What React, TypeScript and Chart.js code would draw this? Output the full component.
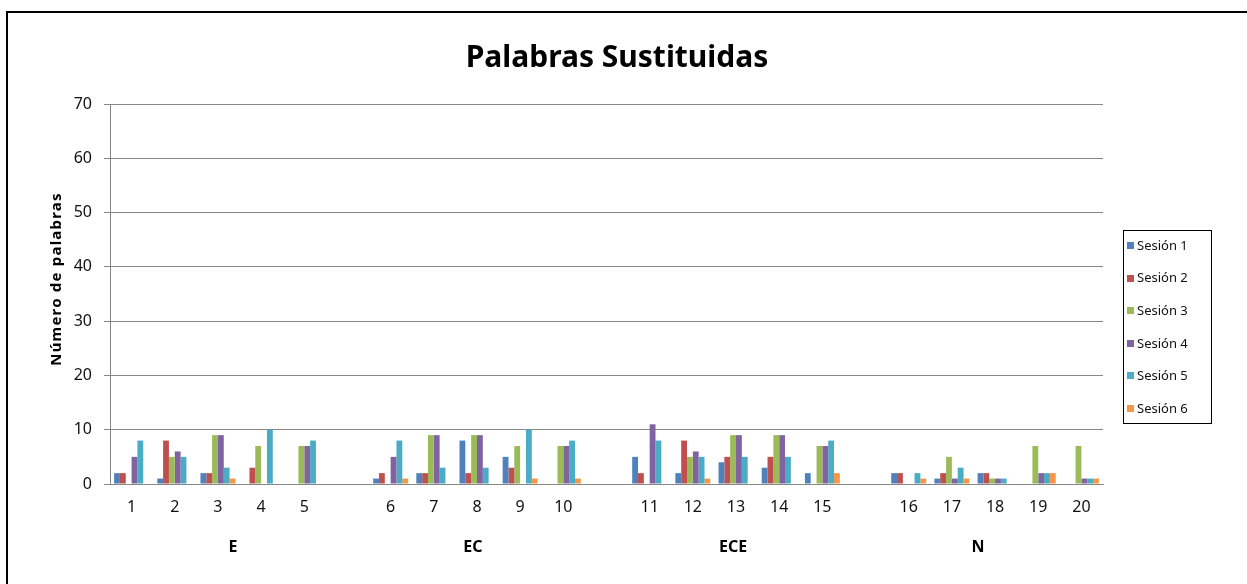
import React, { useEffect, useRef } from 'react';
import { Chart, registerables } from 'chart.js';

Chart.register(...registerables);

const TITLE = 'Palabras Sustituidas';
const Y_TITLE = 'Número de palabras';
const GROUP_NAMES = ['E', 'EC', 'ECE', 'N'];
const GROUP_ITEMS = [
  ['1', '2', '3', '4', '5'],
  ['6', '7', '8', '9', '10'],
  ['11', '12', '13', '14', '15'],
  ['16', '17', '18', '19', '20'],
];
const SERIES_NAMES = ['Sesión 1', 'Sesión 2', 'Sesión 3', 'Sesión 4', 'Sesión 5', 'Sesión 6'];
const COLORS = ['#4F81BD', '#C0504D', '#9BBB59', '#8064A2', '#4BACC6', '#F79646'];

const SESION_1 = [2, 1, 2, 0, 0, 1, 2, 8, 5, 0, 5, 2, 4, 3, 2, 2, 1, 2, 0, 0];
const SESION_2 = [2, 8, 2, 3, 0, 2, 2, 2, 3, 0, 2, 8, 5, 5, 0, 2, 2, 2, 0, 0];
const SESION_3 = [0, 5, 9, 7, 7, 0, 9, 9, 7, 7, 0, 5, 9, 9, 7, 0, 5, 1, 7, 7];
const SESION_4 = [5, 6, 9, 0, 7, 5, 9, 9, 0, 7, 11, 6, 9, 9, 7, 0, 1, 1, 2, 1];
const SESION_5 = [8, 5, 3, 10, 8, 8, 3, 3, 10, 8, 8, 5, 5, 5, 8, 2, 3, 1, 2, 1];
const SESION_6 = [0, 0, 1, 0, 0, 1, 0, 0, 1, 1, 0, 1, 0, 0, 2, 1, 1, 0, 2, 1];
const SERIES = [SESION_1, SESION_2, SESION_3, SESION_4, SESION_5, SESION_6];

const Y_MIN = 0;
const Y_MAX = 70;
const Y_STEP = 10;

const FONT = '"Noto Sans", "Open Sans", sans-serif';

// Build category slots: a blank slot between groups (as in the original chart)
const labels: string[] = [];
const slotSource: (number | null)[] = [];
const groupSlots: number[][] = [];
{
  let k = 0;
  GROUP_ITEMS.forEach((items, g) => {
    if (g > 0) {
      labels.push('');
      slotSource.push(null);
    }
    const slots: number[] = [];
    items.forEach((l) => {
      slots.push(labels.length);
      labels.push(l);
      slotSource.push(k++);
    });
    groupSlots.push(slots);
  });
}

// small horizontal nudges of the group captions, as placed in the original
const GROUP_LABEL_NUDGE = [15, -4, -3, -17];

const overlayPlugin = {
  id: 'overlay',
  afterDraw(chart: any) {
    const { ctx, chartArea, scales } = chart;
    ctx.save();
    // Title
    ctx.fillStyle = '#000';
    ctx.font = `bold 30px ${FONT}`;
    ctx.textAlign = 'center';
    ctx.textBaseline = 'alphabetic';
    ctx.fillText(TITLE, 617, 67);

    // Y axis title
    ctx.save();
    ctx.translate(57, 279);
    ctx.rotate(-Math.PI / 2);
    ctx.font = `bold 15px ${FONT}`;
    (ctx as any).letterSpacing = '1.2px';
    ctx.textAlign = 'center';
    ctx.textBaseline = 'middle';
    ctx.fillText(Y_TITLE, 0, 0);
    ctx.restore();

    // Group labels
    ctx.font = `bold 16px ${FONT}`;
    ctx.textAlign = 'center';
    ctx.textBaseline = 'middle';
    GROUP_NAMES.forEach((name, g) => {
      const slots = groupSlots[g];
      const x0 = scales.x.getPixelForValue(slots[0]);
      const x1 = scales.x.getPixelForValue(slots[slots.length - 1]);
      ctx.fillText(name, (x0 + x1) / 2 + GROUP_LABEL_NUDGE[g], chartArea.bottom + 63);
    });

    // Legend
    const bx = 1123, by = 230, bw = 88, bh = 193;
    ctx.strokeStyle = '#000';
    ctx.lineWidth = 1;
    ctx.strokeRect(bx + 0.5, by + 0.5, bw, bh);
    ctx.font = `13px ${FONT}`;
    ctx.textAlign = 'left';
    ctx.textBaseline = 'middle';
    chart.data.datasets.forEach((ds: any, i: number) => {
      const y = by + 16 + i * 32.6;
      ctx.fillStyle = ds.backgroundColor;
      ctx.fillRect(bx + 4, Math.round(y - 4), 7, 7);
      ctx.fillStyle = '#111';
      ctx.fillText(ds.label, bx + 14, y);
    });
    ctx.restore();
  },
};

export default function App() {
  const ref = useRef<HTMLCanvasElement | null>(null);

  useEffect(() => {
    if (!ref.current) return;
    const chart = new Chart(ref.current, {
      type: 'bar',
      data: {
        labels,
        datasets: SERIES.map((s, i) => ({
          label: SERIES_NAMES[i],
          data: slotSource.map((j) => (j === null ? null : s[j])),
          backgroundColor: COLORS[i],
          borderWidth: 0,
          categoryPercentage: 0.81,
          barPercentage: 1.0,
        })),
      },
      options: {
        responsive: false,
        animation: false,
        layout: { padding: { left: 0, top: 104, right: 144, bottom: 0 } },
        plugins: {
          legend: { display: false },
          title: { display: false },
          tooltip: { enabled: false },
        },
        scales: {
          x: {
            grid: { display: false, drawTicks: false },
            border: { display: true, color: '#878787', width: 1 },
            ticks: {
              color: '#111',
              font: { family: FONT, size: 16 },
              padding: 14,
              autoSkip: false,
              maxRotation: 0,
            },
            afterFit: (s: any) => {
              s.height = 100;
            },
          },
          y: {
            min: Y_MIN,
            max: Y_MAX,
            ticks: {
              stepSize: Y_STEP,
              color: '#111',
              font: { family: FONT, size: 16 },
              padding: 12,
            },
            grid: { color: '#878787', lineWidth: 1, tickLength: 6, drawTicks: true },
            border: { display: true, color: '#878787', width: 1 },
            afterFit: (s: any) => {
              s.width = 110;
            },
          },
        },
      },
      plugins: [overlayPlugin],
    });
    return () => chart.destroy();
  }, []);

  return (
    <div
      style={{
        position: 'fixed',
        left: 0,
        top: 0,
        width: 1247,
        height: 584,
        overflow: 'hidden',
        background: '#fff',
      }}
    >
      <div
        style={{
          position: 'absolute',
          left: 6,
          top: 11,
          width: 1400,
          height: 800,
          borderTop: '2px solid #000',
          borderLeft: '2px solid #000',
        }}
      />
      <canvas
        ref={ref}
        width={1247}
        height={584}
        style={{ position: 'absolute', left: 0, top: 0, width: 1247, height: 584 }}
      />
    </div>
  );
}
